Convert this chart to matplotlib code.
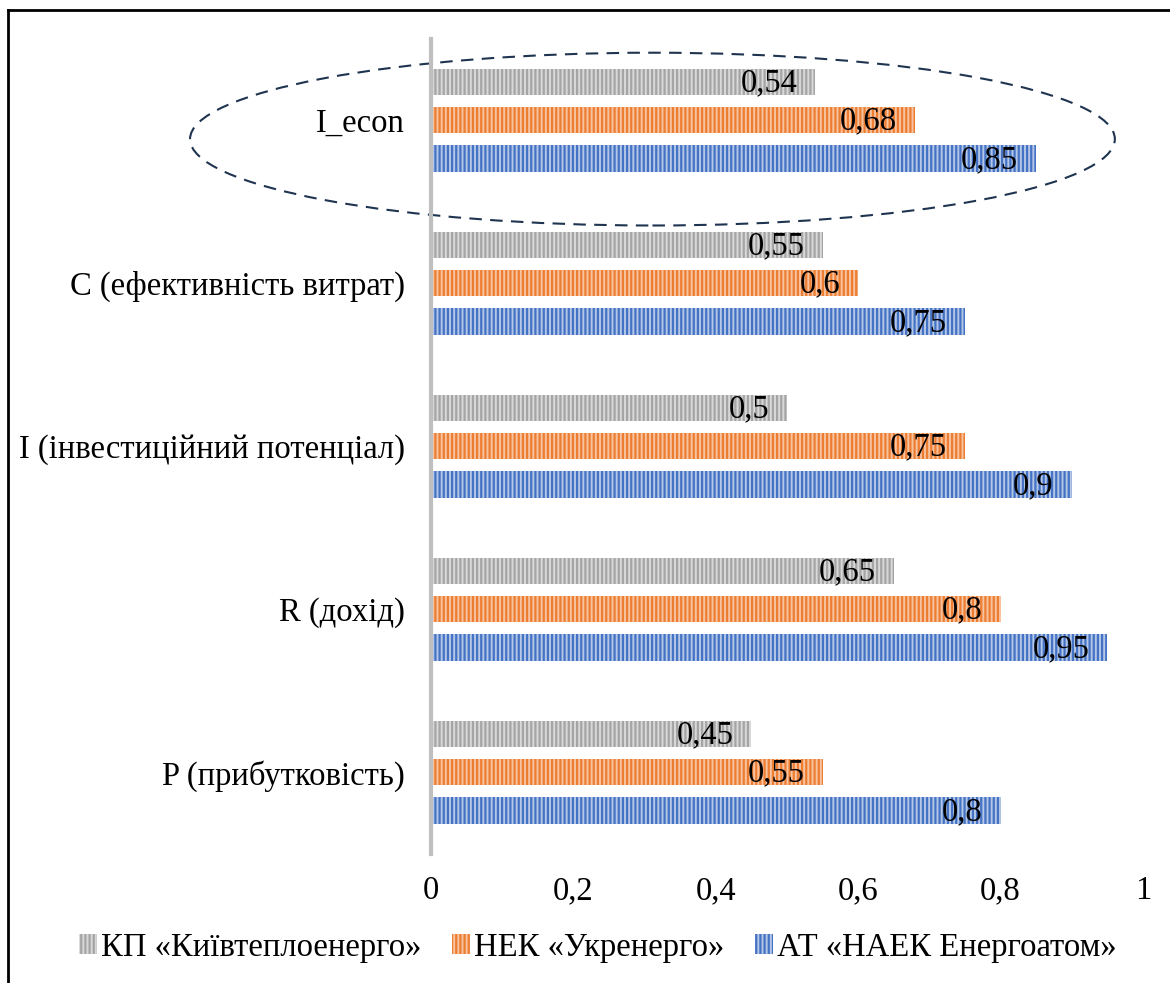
import numpy as np
import matplotlib
matplotlib.use("Agg")
import matplotlib.pyplot as plt
from matplotlib.patches import Ellipse, Patch
from matplotlib.lines import Line2D

plt.rcParams['font.family'] = ['Liberation Serif', 'DejaVu Serif']
plt.rcParams['hatch.linewidth'] = 1.6

# Indicators, bottom to top
categories = ['P (прибутковість)', 'R (дохід)', 'I (інвестиційний потенціал)',
              'C (ефективність витрат)', 'I_econ']
series_names = ['КП «Київтеплоенерго»', 'НЕК «Укренерго»', 'АТ «НАЕК Енергоатом»']
kyivteplo = [0.45, 0.65, 0.50, 0.55, 0.54]
ukrenergo = [0.55, 0.80, 0.75, 0.60, 0.68]
energoatom = [0.80, 0.95, 0.90, 0.75, 0.85]
xticks = [0, 0.2, 0.4, 0.6, 0.8, 1]

colors = ['#a5a5a5', '#ed7d31', '#4472c4']
light = ['#d9d9d9', '#f7c3a0', '#b4c7e7']
FS = 23.5


def fmt(v):
    return ('%g' % v).replace('.', ',')


fig = plt.figure(figsize=(11.7, 9.83), dpi=100)
ax = fig.add_axes([0.3684, 0.1317, 0.6085, 0.8291])

y = np.arange(len(categories))
offsets = [0.236, 0.0, -0.236]
height = 0.16
for vals, off, c, lc, name in zip([kyivteplo, ukrenergo, energoatom], offsets,
                                  colors, light, series_names):
    bars = ax.barh(y + off, vals, height=height, color=lc, edgecolor=c,
                   hatch='||||', linewidth=0, label=name)
    # Excel-style "inside end" value labels
    for yi, v in zip(y + off, vals):
        ax.annotate(fmt(v), xy=(v, yi), xytext=(-13, -1), textcoords='offset points',
                    ha='right', va='center', fontsize=FS, color='black')

ax.set_xlim(0, 1)
ax.set_ylim(-0.5, len(categories) - 0.5)
ax.set_yticks(y)
ax.set_yticklabels(categories, fontsize=FS)
ax.set_xticks(xticks)
ax.set_xticklabels([fmt(t) for t in xticks], fontsize=FS)
ax.tick_params(axis='both', length=0)
ax.tick_params(axis='y', pad=19)
ax.tick_params(axis='x', pad=16)
for s in ['top', 'right', 'bottom']:
    ax.spines[s].set_visible(False)
ax.spines['left'].set_color('#bfbfbf')
ax.spines['left'].set_linewidth(3)

# dashed ellipse around the integral indicator
ell = Ellipse((0.311, 3.883), width=1.299, height=1.06, fill=False,
              edgecolor='#1f3450', linestyle=(0, (6, 4)), linewidth=1.5,
              clip_on=False)
ax.add_patch(ell)

handles = [Patch(facecolor=lc, edgecolor=c, hatch='||||', linewidth=0)
           for c, lc in zip(colors, light)]
fig.legend(handles, series_names, loc='center', bbox_to_anchor=(0.511, 0.036),
           ncol=3, frameon=False, fontsize=FS, handlelength=0.55, handleheight=0.55,
           handletextpad=0.12, columnspacing=0.95)

# frame lines along the top and left edges
fig.add_artist(Line2D([8 / 1170, 1], [1 - 10 / 983, 1 - 10 / 983],
                      transform=fig.transFigure, color='black', linewidth=2))
fig.add_artist(Line2D([8 / 1170, 8 / 1170], [0, 1 - 10 / 983],
                      transform=fig.transFigure, color='black', linewidth=2))

fig.savefig('out.png', dpi=100)
